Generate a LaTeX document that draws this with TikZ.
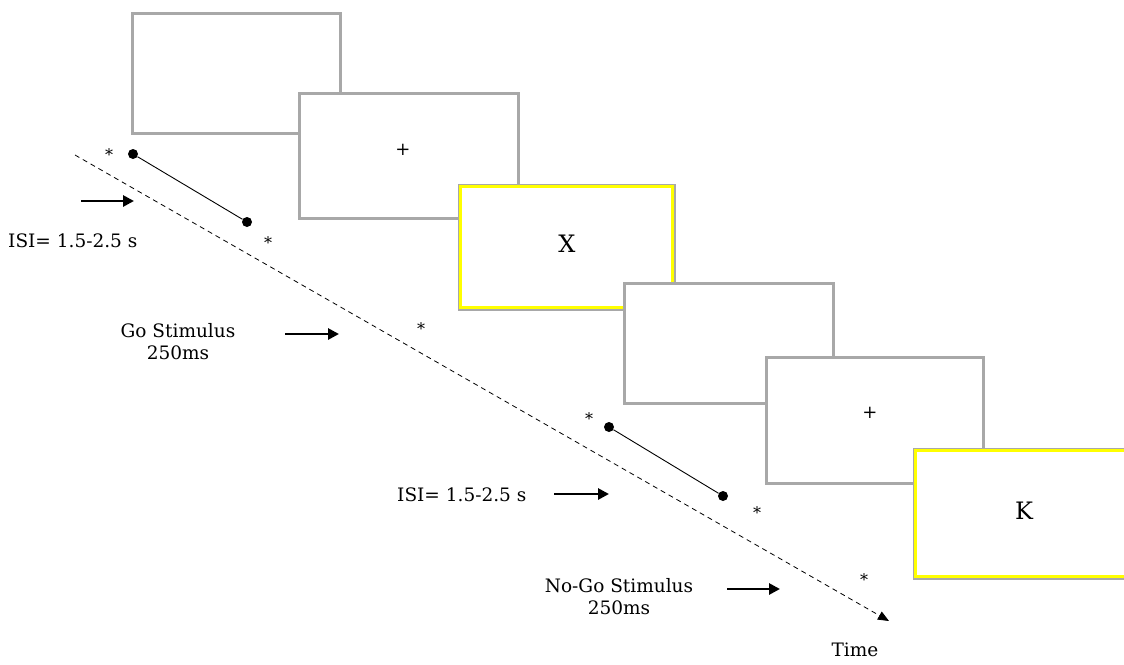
\documentclass[tikz,border=0pt]{standalone}
\usepackage{fontspec}
\setmainfont{DejaVu Serif}
\usetikzlibrary{arrows.meta}
\definecolor{boxgray}{HTML}{A8A8A8}
\definecolor{boxyellow}{HTML}{FFFF00}
\begin{document}
\begin{tikzpicture}[x=1pt,y=-1pt,
  screen/.style={draw=boxgray,line width=2.6pt,fill=white,inner sep=0pt,anchor=north west},
  lbl/.style={font=\fontsize{18.5}{22}\selectfont,inner sep=0pt,align=center},
  star/.style={font=\fontsize{16}{16}\selectfont,inner sep=0pt},
  bigtxt/.style={font=\fontsize{24}{24}\selectfont,inner sep=0pt},
  plus/.style={font=\fontsize{18}{18}\selectfont,inner sep=0pt},
  thickarrow/.style={line width=2.8pt,-{Triangle[length=11pt,width=11pt]}},
  timeline/.style={line width=0.8pt,dash pattern=on 5pt off 4pt,-{Triangle[length=11pt,width=9pt]}},
  dotseg/.style={line width=0.9pt},
  dot/.style={circle,fill=black,inner sep=0pt,minimum size=10pt}
]
\useasboundingbox (0,0) rectangle (1124,664);
\clip (0,0) rectangle (1124,664);

% screens
\node[screen,minimum width=208pt,minimum height=120pt] (b1) at (131,12) {};
\node[screen,minimum width=219pt,minimum height=125pt] (b2) at (298,92) {};
\node[plus] (p1) at (403,150) {+};
\node[screen,minimum width=215pt,minimum height=124pt] (b3) at (458,184) {};
\draw[boxyellow,line width=3pt] ([shift={(2.8,2.8)}]b3.north west) rectangle ([shift={(-2.8,-2.8)}]b3.south east);
\node[bigtxt] (x) at (567,244) {X};
\node[screen,minimum width=209pt,minimum height=120pt] (b4) at (623,282) {};
\node[screen,minimum width=217pt,minimum height=126pt] (b5) at (765,356) {};
\node[plus] (p2) at (870,413) {+};
\node[screen,minimum width=240pt,minimum height=129pt] (b6) at (913,448) {};
\draw[boxyellow,line width=3pt] ([shift={(2.8,2.8)}]b6.north west) rectangle ([shift={(-2.8,-2.8)}]b6.south east);
\node[bigtxt] (k) at (1024,511) {K};

% time line
\coordinate (t0) at (75,155);
\coordinate (t1) at (889,621);
\draw[timeline] (t0) -- (t1);
\node[lbl] (time) at (855,650) {Time};

% ISI segments
\node[dot] (d1) at (133,154) {};
\node[dot] (d2) at (247,222) {};
\draw[dotseg] (d1) -- (d2);
\node[dot] (d3) at (609,427) {};
\node[dot] (d4) at (723,496) {};
\draw[dotseg] (d3) -- (d4);

% asterisks
\node[star] (s1) at (109,155) {*};
\node[star] (s2) at (268,243) {*};
\node[star] (s3) at (421,329) {*};
\node[star] (s4) at (589,419) {*};
\node[star] (s5) at (757,513) {*};
\node[star] (s6) at (864,580) {*};

% labels and arrows
\coordinate (a1s) at (81,201);  \coordinate (a1e) at (134,201);
\draw[thickarrow] (a1s) -- (a1e);
\node[lbl,anchor=west] (isi1) at (8,241) {ISI= 1.5-2.5 s};

\node[lbl] (go) at (178,342) {Go Stimulus\\250ms};
\coordinate (a2s) at (285,334); \coordinate (a2e) at (339,334);
\draw[thickarrow] (a2s) -- (a2e);

\node[lbl,anchor=west] (isi2) at (397,495) {ISI= 1.5-2.5 s};
\coordinate (a3s) at (554,494); \coordinate (a3e) at (609,494);
\draw[thickarrow] (a3s) -- (a3e);

\node[lbl] (nogo) at (619,597) {No-Go Stimulus\\250ms};
\coordinate (a4s) at (727,589); \coordinate (a4e) at (780,589);
\draw[thickarrow] (a4s) -- (a4e);
\end{tikzpicture}
\end{document}
